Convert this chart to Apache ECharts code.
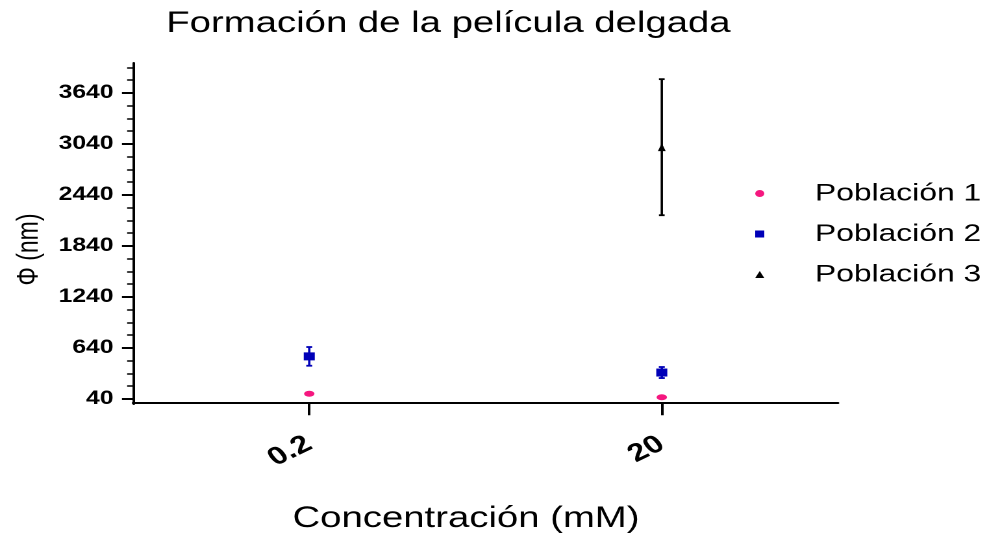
<!DOCTYPE html>
<html>
<head>
<meta charset="utf-8">
<script src="https://cdn.jsdelivr.net/npm/echarts@6/dist/echarts.min.js"></script>
<style>
html,body{margin:0;padding:0;background:#fff;overflow:hidden;}
#wrap{width:760px;height:533px;transform:scaleX(1.298684);transform-origin:0 0;}
</style>
</head>
<body>
<div id="wrap"></div>
<script>
const categories = ['0.2', '20'];
const pob1 = [100, 60];
const pob2 = [540, 350];
const pob2Err = [110, 65];
const pob3 = [null, 3000];
const pob3Err = [null, 800];
const yTicks = [40, 640, 1240, 1840, 2440, 3040, 3640];
const seriesNames = ['Población 1', 'Población 2', 'Población 3'];

const FONT = 'Liberation Sans, Arial, sans-serif';
const COLORS = ['#f5177f', '#0000b8', '#000000'];
const ICONS = [
  'path://M0,5A5,5,0,1,1,10,5A5,5,0,1,1,0,5Z',
  'path://M0,0H10V10H0Z',
  'path://M5,0L10,10L0,10Z'
];

const minorTicks = [];
for (let v = yTicks[0]; v <= 3940; v += 150) minorTicks.push(v);

function errData(vals, errs) {
  const out = [];
  vals.forEach((v, i) => { if (v != null) out.push([i, v - errs[i], v + errs[i]]); });
  return out;
}
function errRender(color, capHalf, lw) {
  return function (params, api) {
    const i = api.value(0);
    const top = api.coord([i, api.value(2)]);
    const bot = api.coord([i, api.value(1)]);
    const st = { stroke: color, lineWidth: lw };
    return {
      type: 'group',
      children: [
        { type: 'line', shape: { x1: top[0], y1: top[1], x2: bot[0], y2: bot[1] }, style: st },
        { type: 'line', shape: { x1: top[0] - capHalf, y1: top[1], x2: top[0] + capHalf, y2: top[1] }, style: st },
        { type: 'line', shape: { x1: bot[0] - capHalf, y1: bot[1], x2: bot[0] + capHalf, y2: bot[1] }, style: st }
      ]
    };
  };
}
const toData = a => a.map(v => v == null ? '-' : v);

const chart = echarts.init(document.getElementById('wrap'), null, { devicePixelRatio: 2, renderer: 'canvas' });
chart.setOption({
  animation: false,
  backgroundColor: '#ffffff',
  title: {
    text: 'Formación de la película delgada',
    left: 128, top: 9, padding: 0,
    textStyle: { fontFamily: FONT, fontSize: 29.5, fontWeight: 'normal', color: '#000' }
  },
  legend: {
    orient: 'vertical',
    left: 581.5, top: 181, padding: 0,
    itemWidth: 75, itemHeight: 7, itemGap: 15.5,
    data: seriesNames.map((n, i) => ({ name: n, icon: ICONS[i] })),
    textStyle: { fontFamily: FONT, fontSize: 24.5, color: '#000' }
  },
  grid: { left: 102.4, right: 114.7, top: 63, bottom: 129, outerBoundsMode: 'none', containLabel: false },
  xAxis: {
    type: 'category',
    data: categories,
    boundaryGap: true,
    name: 'Concentración (mM)',
    nameLocation: 'middle',
    nameGap: 100,
    nameTextStyle: { fontFamily: FONT, fontSize: 29.5, color: '#000', padding: [0, 30, 0, 0] },
    axisLine: { show: true, lineStyle: { color: '#000', width: 2 } },
    axisTick: { show: true, alignWithLabel: true, length: 13, lineStyle: { color: '#000', width: 2 } },
    axisLabel: { rotate: 32, margin: 38, fontFamily: FONT, fontSize: 25, fontWeight: 'bold', color: '#000' },
    splitLine: { show: false }
  },
  yAxis: [
    {
      type: 'value', min: -20, max: 3990,
      name: 'Φ (nm)', nameLocation: 'middle', nameGap: 64.5,
      nameTextStyle: { fontFamily: FONT, fontSize: 23, color: '#000', padding: [0, 32, 0, 0] },
      axisLine: { show: true, lineStyle: { color: '#000', width: 2 } },
      axisTick: { show: true, customValues: yTicks, length: 8.5, lineStyle: { color: '#000', width: 2 } },
      axisLabel: {
        customValues: yTicks, margin: 15, fontFamily: FONT, fontSize: 19, fontWeight: 'bold', color: '#000',
        formatter: v => String(v)
      },
      splitLine: { show: false }
    },
    {
      type: 'value', min: -20, max: 3990, position: 'left',
      axisLine: { show: false },
      axisTick: { show: true, customValues: minorTicks, length: 4.5, lineStyle: { color: '#000', width: 1.5 } },
      axisLabel: { show: false },
      splitLine: { show: false }
    }
  ],
  series: [
    {
      name: 'err2', type: 'custom', z: 1, silent: true,
      renderItem: errRender(COLORS[1], 2.3, 1.8),
      encode: { x: 0, y: [1, 2] },
      data: errData(pob2, pob2Err)
    },
    {
      name: 'err3', type: 'custom', z: 1, silent: true,
      renderItem: errRender(COLORS[2], 2.2, 1.8),
      encode: { x: 0, y: [1, 2] },
      data: errData(pob3, pob3Err)
    },
    {
      name: seriesNames[0], type: 'scatter', z: 3,
      symbol: ICONS[0], symbolSize: [8, 6],
      itemStyle: { color: COLORS[0], opacity: 1 },
      data: toData(pob1)
    },
    {
      name: seriesNames[1], type: 'scatter', z: 3,
      symbol: ICONS[1], symbolSize: [8.5, 8],
      itemStyle: { color: COLORS[1], opacity: 1 },
      data: toData(pob2)
    },
    {
      name: seriesNames[2], type: 'scatter', z: 3,
      symbol: ICONS[2], symbolSize: [6, 8],
      itemStyle: { color: COLORS[2], opacity: 1 },
      data: toData(pob3)
    }
  ]
});
</script>
</body>
</html>
